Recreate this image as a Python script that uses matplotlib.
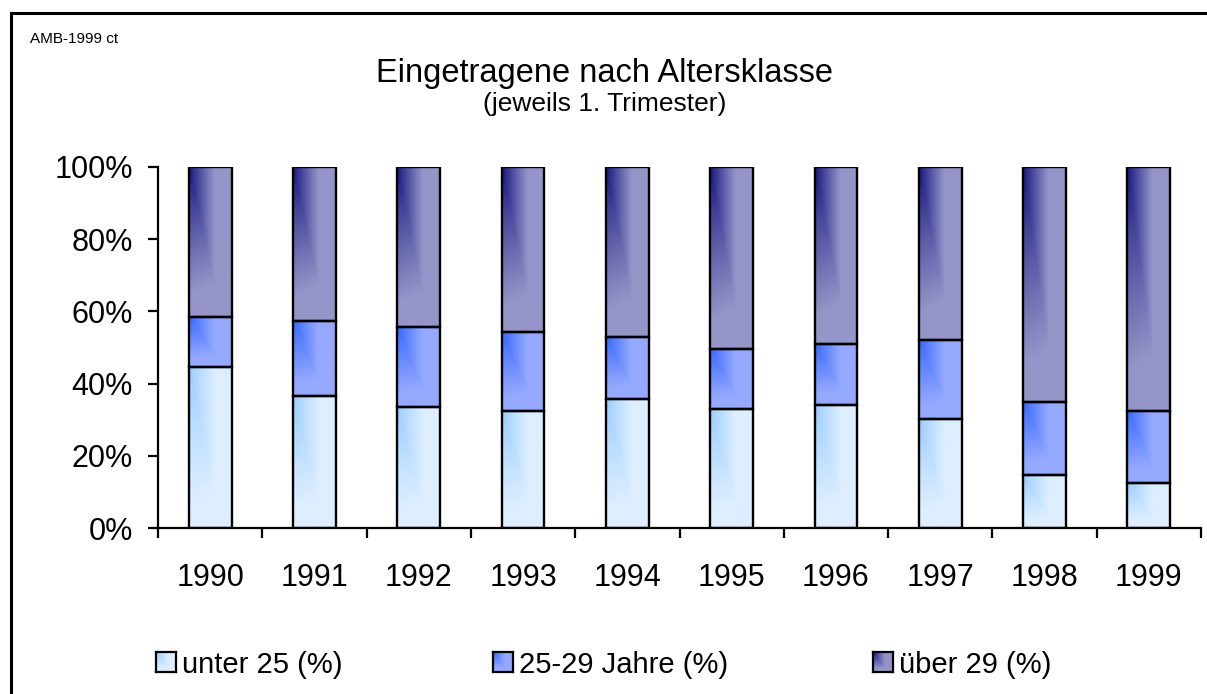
import numpy as np
import matplotlib
matplotlib.use("Agg")
import matplotlib.pyplot as plt
from matplotlib.lines import Line2D
from matplotlib.colors import to_rgb

plt.rcParams['font.family'] = ['Liberation Sans', 'DejaVu Sans']

# ---- data ----
years = ['1990', '1991', '1992', '1993', '1994', '1995', '1996', '1997', '1998', '1999']
unter25 = [44.6, 36.5, 33.5, 32.4, 35.7, 33.0, 34.1, 30.2, 14.6, 12.6]
j25_29 = [13.8, 20.9, 22.2, 21.9, 17.2, 16.6, 16.9, 21.9, 20.2, 19.7]
ueber29 = [41.6, 42.6, 44.3, 45.7, 47.1, 50.4, 49.0, 47.9, 65.2, 67.7]
series_names = ['unter 25 (%)', '25-29 Jahre (%)', 'über 29 (%)']
# gradient colour pairs (dark corner, light)
grad_colors = [('#99CCFF', '#DDEEFF'), ('#3366FF', '#95A9FF'), ('#14147E', '#9595C9')]
yticks = [0, 20, 40, 60, 80, 100]
ytick_labels = ['0%', '20%', '40%', '60%', '80%', '100%']

W, H = 1207, 694
fig = plt.figure(figsize=(W / 100, H / 100), dpi=100)
ax = fig.add_axes([158 / W, 1 - 528 / H, (1201 - 158) / W, (528 - 167) / H])


def gradient_img(dark, light, n=120):
    d = np.array(to_rgb(dark))
    l = np.array(to_rgb(light))
    xs = np.linspace(0, 1, n)
    ys = np.linspace(0, 1, n)
    X, Y = np.meshgrid(xs, ys)
    t = np.clip(np.maximum(X / 0.6, Y / 0.85 + 0.15 * X), 0, 1)
    t = t ** 0.9
    img = d[None, None, :] * (1 - t[..., None]) + l[None, None, :] * t[..., None]
    return img


x = np.arange(len(years))
bottom = np.zeros(len(years))
for vals, name, (dk, lt) in zip([unter25, j25_29, ueber29], series_names, grad_colors):
    bars = ax.bar(x, vals, width=0.41, bottom=bottom, facecolor='none',
                  edgecolor='black', linewidth=1.7, label=name, zorder=3)
    img = gradient_img(dk, lt)
    for b in bars:
        bx, by = b.get_x(), b.get_y()
        bw, bh = b.get_width(), b.get_height()
        im = ax.imshow(img, extent=[bx, bx + bw, by, by + bh], origin='upper',
                       aspect='auto', zorder=2, interpolation='bilinear')
        im.set_clip_path(b)
    bottom += np.array(vals)

ax.set_xlim(-0.5, len(years) - 0.5)
ax.set_ylim(0, 100)
ax.set_aspect('auto')

for s in ['top', 'right']:
    ax.spines[s].set_visible(False)
for s in ['left', 'bottom']:
    ax.spines[s].set_linewidth(1.6)

ax.set_yticks(yticks)
ax.set_yticklabels(ytick_labels, fontsize=22)
ax.tick_params(axis='y', direction='out', length=7.2, width=1.6, pad=11)

ax.set_xticks(np.arange(-0.5, len(years), 1.0))
ax.set_xticklabels([])
ax.set_xticks(x, minor=True)
ax.set_xticklabels(years, minor=True, fontsize=22)
ax.tick_params(axis='x', which='major', direction='out', length=7.2, width=1.6)
ax.tick_params(axis='x', which='minor', length=0, pad=25)

# titles
fig.text(605 / W, 1 - 82 / H, 'Eingetragene nach Altersklasse', ha='center',
         va='baseline', fontsize=23.5)
fig.text(605 / W, 1 - 111 / H, '(jeweils 1. Trimester)', ha='center',
         va='baseline', fontsize=19)
fig.text(30 / W, 1 - 43 / H, 'AMB-1999 ct', ha='left', va='baseline', fontsize=11)

# frame (only left & top visible inside image)
fig.add_artist(Line2D([11 / W, 11 / W], [0, 1 - 13 / H], transform=fig.transFigure,
                      color='black', linewidth=2.2))
fig.add_artist(Line2D([11 / W, 1], [1 - 13 / H, 1 - 13 / H], transform=fig.transFigure,
                      color='black', linewidth=2.2))

# legend
leg_sq_x = [156, 493, 873]
sq = 20
sq_top = 652
for sx, name, (dk, lt) in zip(leg_sq_x, series_names, grad_colors):
    lax = fig.add_axes([sx / W, 1 - (sq_top + sq) / H, sq / W, sq / H])
    lax.imshow(gradient_img(dk, lt), extent=[0, 1, 0, 1], origin='upper', aspect='auto')
    lax.set_xticks([])
    lax.set_yticks([])
    for s in lax.spines.values():
        s.set_linewidth(1.6)
    fig.text((sx + sq + 6) / W, 1 - (sq_top + sq / 2) / H, name, ha='left',
             va='center_baseline', fontsize=21)

fig.savefig('out.png', dpi=100)
